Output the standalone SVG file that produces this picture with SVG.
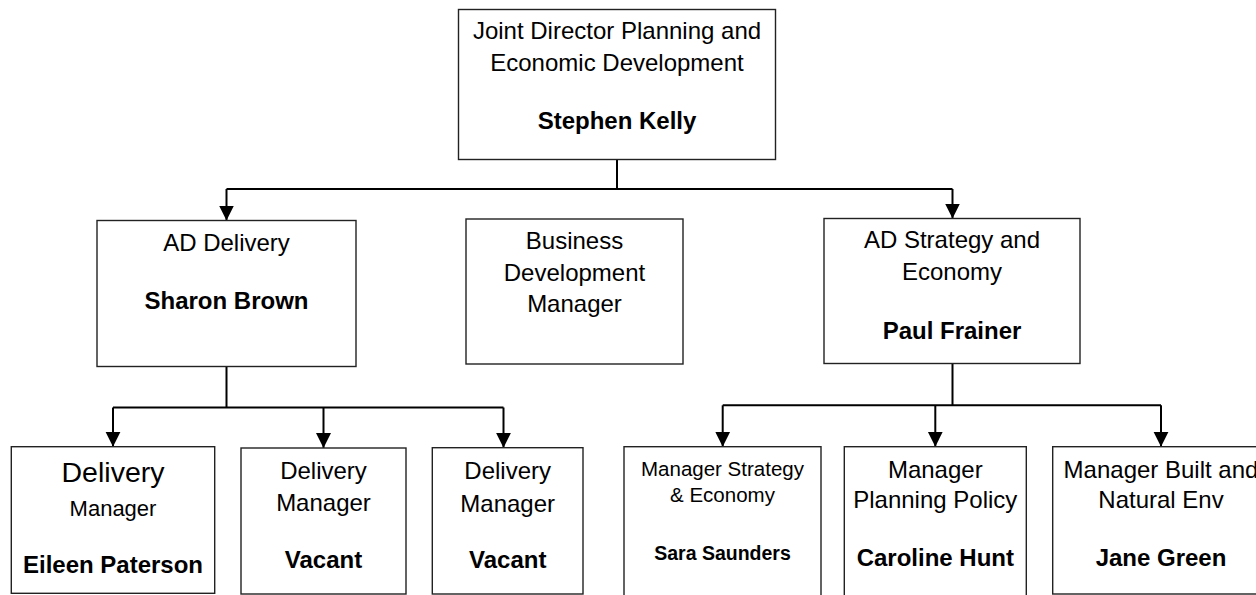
<svg xmlns="http://www.w3.org/2000/svg" width="1256" height="595" viewBox="0 0 1256 595">
<style>
  .box { fill: #ffffff; stroke: #222222; stroke-width: 1.4; }
  .t { font-family: "Liberation Sans", Arial, sans-serif; font-size: 24px; fill: #000000; text-anchor: middle; }
  .b { font-weight: bold; }
  .con { fill: none; stroke: #000000; stroke-width: 2; }
</style>
<defs>
  <marker id="arrow" markerUnits="userSpaceOnUse" markerWidth="16" markerHeight="16" viewBox="0 0 16 16" refX="15" refY="8" orient="auto">
    <path d="M0,0.5 L15,8 L0,15.5 Z" fill="#000000"/>
  </marker>
</defs>
<rect width="1256" height="595" fill="#ffffff"/>

<g id="connectors">
  <path class="con" d="M617,159.5 V189 M226.5,189 H952.5"/>
  <path class="con" d="M226.5,189 V220.5" marker-end="url(#arrow)"/>
  <path class="con" d="M952.5,189 V218.5" marker-end="url(#arrow)"/>
  <path class="con" d="M226.5,366.5 V407.5 M113,407.5 H503.5"/>
  <path class="con" d="M113,407.5 V446.7" marker-end="url(#arrow)"/>
  <path class="con" d="M323.5,407.5 V448" marker-end="url(#arrow)"/>
  <path class="con" d="M503.5,407.5 V447.7" marker-end="url(#arrow)"/>
  <path class="con" d="M952.5,363.7 V405.3 M722.7,405.3 H1161"/>
  <path class="con" d="M722.7,405.3 V446.7" marker-end="url(#arrow)"/>
  <path class="con" d="M935.3,405.3 V446.7" marker-end="url(#arrow)"/>
  <path class="con" d="M1161,405.3 V446.7" marker-end="url(#arrow)"/>
</g>

<g id="joint-director">
  <rect class="box" x="458.5" y="9.5" width="317" height="150"/>
  <text class="t" x="617" y="39">Joint Director Planning and</text>
  <text class="t" x="617" y="71">Economic Development</text>
  <text class="t b" x="617" y="129.3">Stephen Kelly</text>
</g>

<g id="ad-delivery">
  <rect class="box" x="97" y="220.5" width="259" height="146"/>
  <text class="t" x="226.5" y="251">AD Delivery</text>
  <text class="t b" x="226.5" y="309.3">Sharon Brown</text>
</g>

<g id="business-development">
  <rect class="box" x="466" y="219" width="217" height="145"/>
  <text class="t" x="574.5" y="249">Business</text>
  <text class="t" x="574.5" y="280.5">Development</text>
  <text class="t" x="574.5" y="311.7">Manager</text>
</g>

<g id="ad-strategy">
  <rect class="box" x="824" y="218.5" width="256" height="145"/>
  <text class="t" x="952" y="248.3">AD Strategy and</text>
  <text class="t" x="952" y="280">Economy</text>
  <text class="t b" x="952" y="338.7">Paul Frainer</text>
</g>

<g id="delivery-manager-1">
  <rect class="box" x="11.3" y="446.7" width="203.4" height="146.6"/>
  <text class="t" x="113" y="481.7" style="font-size:28.5px">Delivery</text>
  <text class="t" x="113" y="515.7" style="font-size:22px">Manager</text>
  <text class="t b" x="113" y="573.3">Eileen Paterson</text>
</g>

<g id="delivery-manager-2">
  <rect class="box" x="241" y="448" width="165" height="146"/>
  <text class="t" x="323.5" y="479">Delivery</text>
  <text class="t" x="323.5" y="511">Manager</text>
  <text class="t b" x="323.5" y="568.3">Vacant</text>
</g>

<g id="delivery-manager-3">
  <rect class="box" x="432.3" y="447.7" width="150.7" height="146.3"/>
  <text class="t" x="507.7" y="479">Delivery</text>
  <text class="t" x="507.7" y="511.7">Manager</text>
  <text class="t b" x="507.7" y="568.3">Vacant</text>
</g>

<g id="manager-strategy">
  <rect class="box" x="624" y="446.7" width="197" height="160"/>
  <text class="t" x="722.5" y="476" style="font-size:20.5px">Manager Strategy</text>
  <text class="t" x="722.5" y="502" style="font-size:20.5px">&amp; Economy</text>
  <text class="t b" x="722.5" y="560" style="font-size:19.5px">Sara Saunders</text>
</g>

<g id="manager-planning-policy">
  <rect class="box" x="844.3" y="446.7" width="182" height="160"/>
  <text class="t" x="935.3" y="477.7">Manager</text>
  <text class="t" x="935.3" y="508.3">Planning Policy</text>
  <text class="t b" x="935.3" y="565.7">Caroline Hunt</text>
</g>

<g id="manager-built-natural">
  <rect class="box" x="1052.7" y="446.7" width="217" height="147.3"/>
  <text class="t" x="1161" y="477.7">Manager Built and</text>
  <text class="t" x="1161" y="508.3">Natural Env</text>
  <text class="t b" x="1161" y="565.7">Jane Green</text>
</g>
</svg>
